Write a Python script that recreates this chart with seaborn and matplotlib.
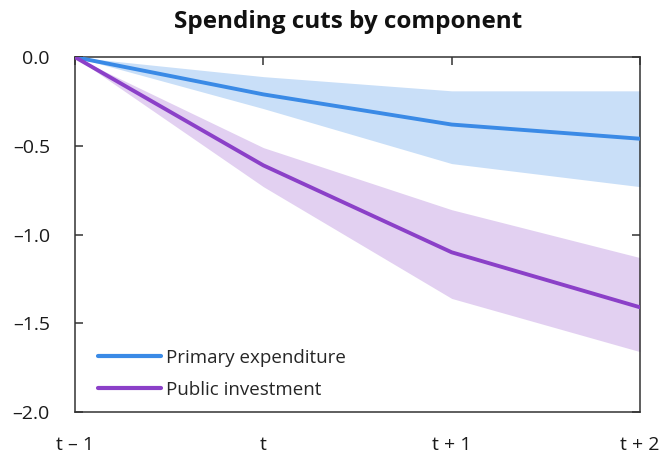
import matplotlib
matplotlib.use("Agg")
import matplotlib.pyplot as plt
import seaborn as sns
import pandas as pd

# Horizon labels and estimated responses (percentage points)
periods = ["t \u2013 1", "t", "t + 1", "t + 2"]
y_ticks = [0.0, -0.5, -1.0, -1.5, -2.0]
y_ticklabels = ["0.0", "\u20130.5", "\u20131.0", "\u20131.5", "\u20132.0"]
primary_mid = [0.0, -0.21, -0.38, -0.46]
primary_hi = [0.0, -0.11, -0.19, -0.19]
primary_lo = [0.0, -0.29, -0.60, -0.73]
invest_mid = [0.0, -0.61, -1.10, -1.41]
invest_hi = [0.0, -0.51, -0.86, -1.13]
invest_lo = [0.0, -0.73, -1.36, -1.66]

series_names = ["Primary expenditure", "Public investment"]
line_colors = ["#3a8ae6", "#8b40c8"]
band_colors = ["#c9dff8", "#e2d0f1"]

x = list(range(len(periods)))
df = pd.DataFrame({
    "x": x * 2,
    "value": primary_mid + invest_mid,
    "series": [series_names[0]] * len(x) + [series_names[1]] * len(x),
})

sns.set_theme(style="white")
plt.rcParams["font.family"] = ["Open Sans", "DejaVu Sans"]

fig = plt.figure(figsize=(6.66, 4.57), dpi=100)
ax = fig.add_axes([0.1126, 0.0985, 0.8484, 0.7765])

ax.fill_between(x, primary_lo, primary_hi, color=band_colors[0], lw=0, zorder=1)
ax.fill_between(x, invest_lo, invest_hi, color=band_colors[1], lw=0, zorder=1)

sns.lineplot(data=df, x="x", y="value", hue="series", palette=line_colors,
             linewidth=2.8, ax=ax, zorder=3)

ax.set_xlim(0, 3)
ax.set_ylim(-2.0, 0.0)
ax.set_xticks(x)
ax.set_xticklabels(periods)
ax.set_yticks(y_ticks)
ax.set_yticklabels(y_ticklabels)
ax.set_xlabel("")
ax.set_ylabel("")

for s in ax.spines.values():
    s.set_color("#333333")
    s.set_linewidth(1.1)

ax.tick_params(axis="both", direction="in", length=6, width=1.1, color="#333333",
               labelsize=14, labelcolor="#1a1a1a")
ax.tick_params(axis="y", left=True, right=True, pad=18)
ax.tick_params(axis="x", bottom=False, top=True, pad=17)

fig.text(0.523, 0.952, "Spending cuts by component", fontsize=17.5,
         fontweight="bold", color="#111111", ha="center", va="center")

leg = ax.legend(loc="lower left", frameon=False, fontsize=13.5, handlelength=3.4,
                handletextpad=0.25, labelspacing=0.75, borderaxespad=0.5,
                bbox_to_anchor=(0.01, -0.01))
for h in leg.get_lines():
    h.set_linewidth(3)

fig.savefig("out.png", dpi=100)
